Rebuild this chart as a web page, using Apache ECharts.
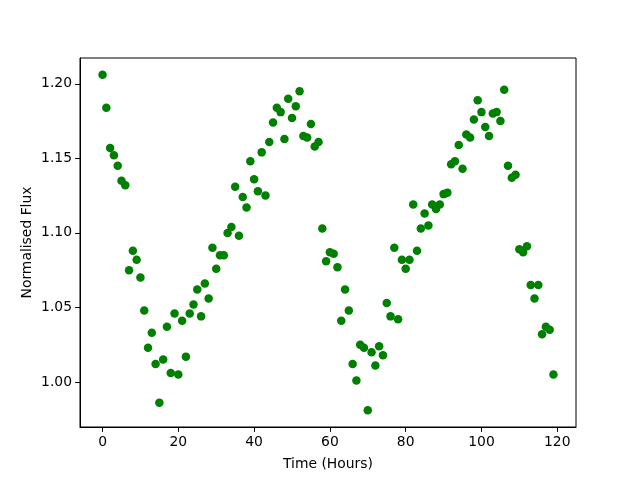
<!DOCTYPE html>
<html>
<head>
<meta charset="utf-8">
<script src="https://cdn.jsdelivr.net/npm/echarts@6/dist/echarts.min.js"></script>
<style>html,body{margin:0;padding:0;background:#fff}#c{width:640px;height:480px}</style>
</head>
<body>
<div id="c"></div>
<script>
const hours = [0,1,2,3,4,5,6,7,8,9,10,11,12,13,14,15,16,17,18,19,20,21,22,23,24,25,26,27,28,29,
30,31,32,33,34,35,36,37,38,39,40,41,42,43,44,45,46,47,48,49,50,51,52,53,54,55,56,57,58,59,
60,61,62,63,64,65,66,67,68,69,70,71,72,73,74,75,76,77,78,79,80,81,82,83,84,85,86,87,88,89,
90,91,92,93,94,95,96,97,98,99,100,101,102,103,104,105,106,107,108,109,110,111,112,113,114,115,116,117,118,119];
const flux = [1.206,1.184,1.157,1.152,1.145,1.135,1.132,1.075,1.088,1.082,
1.070,1.048,1.023,1.033,1.012,0.986,1.015,1.037,1.006,1.046,
1.005,1.041,1.017,1.046,1.052,1.062,1.044,1.066,1.056,1.090,
1.076,1.085,1.085,1.100,1.104,1.131,1.098,1.124,1.117,1.148,
1.136,1.128,1.154,1.125,1.161,1.174,1.184,1.181,1.163,1.190,
1.177,1.185,1.195,1.165,1.164,1.173,1.158,1.161,1.103,1.081,
1.087,1.086,1.077,1.041,1.062,1.048,1.012,1.001,1.025,1.023,
0.981,1.020,1.011,1.024,1.018,1.053,1.044,1.090,1.042,1.082,
1.076,1.082,1.119,1.088,1.103,1.113,1.105,1.119,1.116,1.119,
1.126,1.127,1.146,1.148,1.159,1.143,1.166,1.164,1.176,1.189,
1.181,1.171,1.165,1.180,1.181,1.175,1.196,1.145,1.137,1.139,
1.089,1.087,1.091,1.065,1.056,1.065,1.032,1.037,1.035,1.005];
const xTicks = [0,20,40,60,80,100,120];
const yTicks = [1.00,1.05,1.10,1.15,1.20];

const pts = hours.map((h,i)=>[h, flux[i]]);
const font = 'DejaVu Sans';
const chart = echarts.init(document.getElementById('c'), null, {renderer:'canvas'});
chart.setOption({
  animation:false,
  backgroundColor:'#fff',
  grid:{left:80,right:64,top:58,bottom:53,show:true,borderColor:'#000',borderWidth:1,backgroundColor:'transparent'},
  xAxis:{type:'value',min:-5.95,max:124.95,
    name:'Time (Hours)',nameLocation:'middle',nameGap:30,nameMoveOverlap:false,
    nameTextStyle:{fontFamily:font,fontSize:13.9,color:'#000'},
    axisLine:{show:true,onZero:false,lineStyle:{color:'#000',width:1}},
    axisTick:{show:true,length:4.9,inside:false,customValues:xTicks,lineStyle:{color:'#000'}},
    axisLabel:{customValues:xTicks,margin:8,fontFamily:font,fontSize:13.9,color:'#000',formatter:v=>String(v)},
    splitLine:{show:false}},
  yAxis:{type:'value',min:0.9698,max:1.2173,
    name:'Normalised Flux',nameLocation:'middle',nameGap:46,nameMoveOverlap:false,
    nameTextStyle:{fontFamily:font,fontSize:13.9,color:'#000'},
    axisLine:{show:true,onZero:false,lineStyle:{color:'#000',width:1}},
    axisTick:{show:true,length:4.9,customValues:yTicks,lineStyle:{color:'#000'}},
    axisLabel:{customValues:yTicks,margin:8,fontFamily:font,fontSize:13.9,color:'#000',formatter:v=>v.toFixed(2)},
    splitLine:{show:false}},
  series:[{type:'scatter',data:pts,symbol:'circle',symbolSize:8.5,
    itemStyle:{color:'#008000',opacity:1}}]
});
</script>
</body>
</html>
